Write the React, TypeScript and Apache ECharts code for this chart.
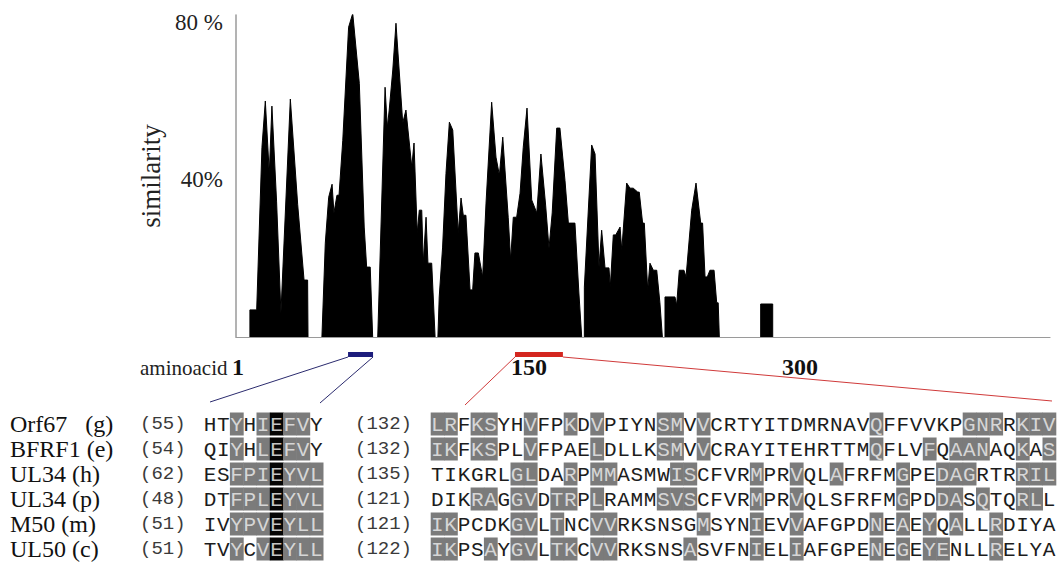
import React, { useEffect, useRef } from "react";
import * as echarts from "echarts";

const W = 1058;
const H = 563;

// ---- similarity profile: [amino-acid position, similarity %] per peak group ----
const group1 = [[7.4, 0], [7.4, 6.9], [11.0, 6.9], [13.8, 48.3], [15.6, 60.1], [17.7, 41.7], [19.1, 58.8], [21.6, 34.4], [23.9, 6.1], [28.9, 60.6], [32.8, 33.8], [36.2, 14.5], [38.1, 14.5], [38.3, 0]];
const group2 = [[45.7, 0], [47.5, 23.9], [49.3, 35.6], [51.1, 38.9], [52.1, 31.6], [53.7, 36.1], [54.8, 36.1], [56.8, 50.1], [59.9, 78.9], [62.1, 82.4], [65.6, 64.6], [68.2, 28.0], [69.5, 17.8], [71.4, 17.8], [72.7, 0]];
const group3 = [[75.4, 0], [79.3, 63.6], [80.5, 53.4], [81.5, 57.8], [83.4, 68.0], [85.1, 79.9], [88.7, 54.5], [90.4, 57.8], [93.5, 43.3], [94.7, 49.4], [96.4, 26.5], [97.5, 32.3], [98.8, 32.3], [99.6, 18.8], [101.1, 30.5], [102.1, 18.8], [104.1, 18.8], [105.9, 0]];
const group4 = [[107.4, 0], [108.1, 10.2], [109.9, 22.9], [111.7, 41.7], [113.5, 54.7], [115.3, 52.7], [118.2, 26.5], [119.7, 35.4], [120.9, 31.0], [122.3, 31.0], [124.5, 12.0], [125.9, 12.0], [127.1, 21.4], [128.9, 21.4], [131.2, 15.3], [133.0, 34.1], [136.0, 59.8], [138.3, 45.8], [140.1, 41.2], [141.9, 50.9], [144.8, 30.5], [146.1, 19.6], [147.5, 30.5], [149.3, 30.5], [151.1, 36.6], [152.8, 48.3], [154.8, 58.3], [157.3, 34.9], [160.0, 31.6], [162.2, 46.6], [164.7, 33.6], [166.5, 22.6], [168.2, 31.6], [170.6, 53.2], [172.3, 53.2], [175.0, 39.9], [176.8, 29.0], [180.3, 29.0], [182.4, 11.2], [183.9, 0]];
const group5 = [[185.3, 0], [185.3, 12.7], [189.2, 48.9], [191.0, 46.6], [193.1, 17.8], [194.5, 27.2], [196.3, 17.6], [198.4, 17.6], [199.1, 12.7], [200.7, 26.0], [202.0, 26.0], [204.3, 28.0], [205.2, 22.1], [207.8, 39.2], [209.6, 37.9], [211.3, 37.9], [213.7, 36.9], [214.5, 36.9], [216.3, 29.0], [217.2, 29.0], [219.0, 12.0], [220.2, 18.8], [222.0, 17.0], [223.8, 17.0], [225.5, 8.7], [226.8, 0]];
const group6 = [[228.2, 0], [228.2, 10.2], [233.5, 10.2], [234.4, 8.1], [235.8, 17.0], [238.3, 17.0], [239.4, 15.3], [242.4, 32.3], [244.7, 39.2], [247.2, 29.0], [248.2, 29.0], [249.5, 15.3], [250.7, 15.3], [252.1, 17.0], [254.3, 17.0], [255.7, 8.7], [256.5, 8.7], [257.1, 0]];
const group7 = [[279.1, 0], [279.1, 8.4], [285.5, 8.4], [285.5, 0]];
const peakGroups = [group1, group2, group3, group4, group5, group6, group7];

// ---- ticks ----
const xTickValues = [1, 150, 300];
const xTickLabels = ["1", "150", "300"];
const yTickValues = [40, 80];
const yTickLabels = ["40%", "80 %"];

// ---- highlighted regions (amino-acid positions) ----
const blueRegion = [59.6, 72.9];
const redRegion = [148.4, 173.9];

// ---- alignment ----
const names = ["Orf67\u00a0\u00a0\u00a0(g)", "BFRF1 (e)", "UL34 (h)", "UL34 (p)", "M50 (m)", "UL50 (c)"];
const startA = ["(55)", "(54)", "(62)", "(48)", "(51)", "(51)"];
const seqA = ["HTYHIEFVY", "QIYHLEFVY", "ESFPIEYVL", "DTFPLEYVL", "IVYPVEYLL", "TVYCVEYLL"];
const shadeA = ["..g.gkgg.", "..g.gkgg.", "..gggkggg", "..gggkggg", "..gggkggg", "..g.gkggg"];
const startB = ["(132)", "(132)", "(135)", "(121)", "(121)", "(122)"];
const seqB = [
  "LRFKSYHVFPKDVPIYNSMVVCRTYITDMRNAVQFFVVKPGNRRKIV",
  "IKFKSPLVFPAELDLLKSMVVCRAYITEHRTTMQFLVFQAANAQKAS",
  "TIKGRLGLDARPMMASMWISCFVRMPRVQLAFRFMGPEDAGRTRRIL",
  "DIKRAGGVDTRPLRAMMSVSCFVRMPRVQLSFRFMGPDDASQTQRLL",
  "IKPCDKGVLTNCVVRKSNSGMSYNIEVVAFGPDNEAEYQALLRDIYA",
  "IKPSAYGVLTKCVVRKSNSASVFNIELIAFGPENEGEYENLLRELYA",
];
const shadeB = [
  "gg.gg..g..g.g....gg.g" + "............" + "g" + "......" + "ggg.ggg",
  "gg.gg..g....g....gg.g" + "............" + "g" + "..." + "g" + "." + "ggg" + ".." + "g" + "." + "g",
  "......gg..g.gg....gg....g..g..g....g..ggg...ggg",
  "...gg.gg.gg.g....ggg....g..g.......g..gg.g..gg.",
  "gg....gg.g..gg......g...g..g.....g.g.g.g..g....",
  "gg..g.gg.gg.gg.....g....g..g.....g.g.gg...g....",
];

const SERIF = '"Liberation Serif", "Times New Roman", serif';
const MONO = '"Liberation Mono", "DejaVu Sans Mono", monospace';
const GRAY = "#7b7b7b";

function buildOption(): any {
  const tickText = { fontFamily: SERIF, fontSize: 24, fontWeight: "bold", color: "#111" };
  return {
    animation: false,
    backgroundColor: "#ffffff",
    grid: { left: 236, right: 8, top: 15, bottom: 226 },
    xAxis: {
      type: "value",
      min: 0,
      max: 433,
      axisLine: { show: true, lineStyle: { color: "#9a9a9a", width: 1.2 } },
      axisTick: { show: false },
      splitLine: { show: false },
      axisLabel: {
        customValues: xTickValues,
        formatter: (v: number) => {
          const i = xTickValues.indexOf(v);
          if (i < 0) return "";
          return i === 1 ? `{shift|${xTickLabels[i]}}` : `{plain|${xTickLabels[i]}}`;
        },
        rich: {
          plain: { ...tickText },
          shift: { ...tickText, padding: [0, 0, 0, 22] },
        },
        ...tickText,
        margin: 18,
      },
    },
    yAxis: {
      type: "value",
      min: 0,
      max: 82,
      interval: 40,
      name: "similarity",
      nameLocation: "middle",
      nameRotate: 90,
      nameGap: 62,
      nameTextStyle: { fontFamily: SERIF, fontSize: 27, color: "#222" },
      axisLine: { show: true, lineStyle: { color: "#a0a0a0", width: 1.6 } },
      axisTick: { show: false },
      splitLine: { show: false },
      axisLabel: {
        formatter: (v: number) => {
          const i = yTickValues.indexOf(v);
          return i >= 0 ? yTickLabels[i] : "";
        },
        fontFamily: SERIF,
        fontSize: 23,
        color: "#222",
        margin: 13,
      },
    },
    series: peakGroups.map((g) => ({
      type: "line",
      data: g,
      showSymbol: false,
      lineStyle: { color: "#000", width: 1 },
      areaStyle: { color: "#000", opacity: 1 },
      silent: true,
    })),
  };
}

function buildGraphics(px: (v: number) => number): any[] {
  const els: any[] = [];
  const BAR_Y = 352;
  const BAR_H = 5;
  const LINE_Y = BAR_Y + BAR_H;

  const bx0 = px(blueRegion[0]);
  const bx1 = px(blueRegion[1]);
  const rx0 = px(redRegion[0]);
  const rx1 = px(redRegion[1]);

  els.push({ type: "rect", shape: { x: bx0, y: BAR_Y, width: bx1 - bx0, height: BAR_H }, style: { fill: "#1d1d7c" } });
  els.push({ type: "rect", shape: { x: rx0, y: BAR_Y, width: rx1 - rx0, height: BAR_H }, style: { fill: "#d4261f" } });
  els.push({ type: "line", shape: { x1: bx0, y1: LINE_Y, x2: 210, y2: 402 }, style: { stroke: "#2b2b6e", lineWidth: 1 } });
  els.push({ type: "line", shape: { x1: bx1, y1: LINE_Y, x2: 320, y2: 403 }, style: { stroke: "#2b2b6e", lineWidth: 1 } });
  els.push({ type: "line", shape: { x1: rx0, y1: LINE_Y, x2: 465, y2: 405 }, style: { stroke: "#d03a3a", lineWidth: 1 } });
  els.push({ type: "line", shape: { x1: rx1, y1: LINE_Y, x2: 1052, y2: 401 }, style: { stroke: "#d03a3a", lineWidth: 1 } });

  els.push({
    type: "text",
    x: 140,
    y: 368,
    style: { text: "aminoacid", fontFamily: SERIF, fontSize: 21, fill: "#222", textAlign: "left", textVerticalAlign: "middle" },
  });

  const ROW_Y0 = 424;
  const ROW_P = 25;
  const CW = 13.3;
  const BOX_H = 23;

  const block = (seq: string, shade: string, x0: number, cy: number) => {
    for (let c = 0; c < seq.length; c++) {
      const s = shade[c];
      const cx = x0 + c * CW;
      if (s === "g" || s === "k") {
        els.push({
          type: "rect",
          shape: { x: cx, y: cy - BOX_H / 2, width: CW + 0.5, height: BOX_H },
          style: { fill: s === "k" ? "#050505" : GRAY },
        });
      }
      els.push({
        type: "text",
        x: cx + CW / 2,
        y: cy + 1,
        style: {
          text: seq[c],
          fontFamily: MONO,
          fontSize: 21,
          fill: s === "g" ? "#d6d6d6" : s === "k" ? "#c4c4c4" : "#1c1c1c",
          textAlign: "center",
          textVerticalAlign: "middle",
        },
      });
    }
  };

  for (let i = 0; i < names.length; i++) {
    const cy = ROW_Y0 + i * ROW_P;
    els.push({
      type: "text",
      x: 10,
      y: cy,
      style: { text: names[i], fontFamily: SERIF, fontSize: 24, fill: "#111", textAlign: "left", textVerticalAlign: "middle" },
    });
    els.push({
      type: "text",
      x: 140,
      y: cy,
      style: { text: startA[i], fontFamily: MONO, fontSize: 19, fill: "#3a3a3a", textAlign: "left", textVerticalAlign: "middle" },
    });
    els.push({
      type: "text",
      x: 355,
      y: cy,
      style: { text: startB[i], fontFamily: MONO, fontSize: 19, fill: "#3a3a3a", textAlign: "left", textVerticalAlign: "middle" },
    });
    block(seqA[i], shadeA[i], 203.3, cy);
    block(seqB[i], shadeB[i], 430.7, cy);
  }
  return els;
}

export default function App() {
  const ref = useRef<HTMLDivElement>(null);
  useEffect(() => {
    const el = ref.current;
    if (!el) return;
    const chart = echarts.init(el, null, { renderer: "svg" });
    chart.setOption(buildOption());
    const px = (v: number) => chart.convertToPixel({ xAxisIndex: 0 }, v) as number;
    chart.setOption({ graphic: buildGraphics(px) });
    return () => chart.dispose();
  }, []);
  return <div ref={ref} style={{ position: "absolute", left: 0, top: 0, width: W, height: H, background: "#fff" }} />;
}
